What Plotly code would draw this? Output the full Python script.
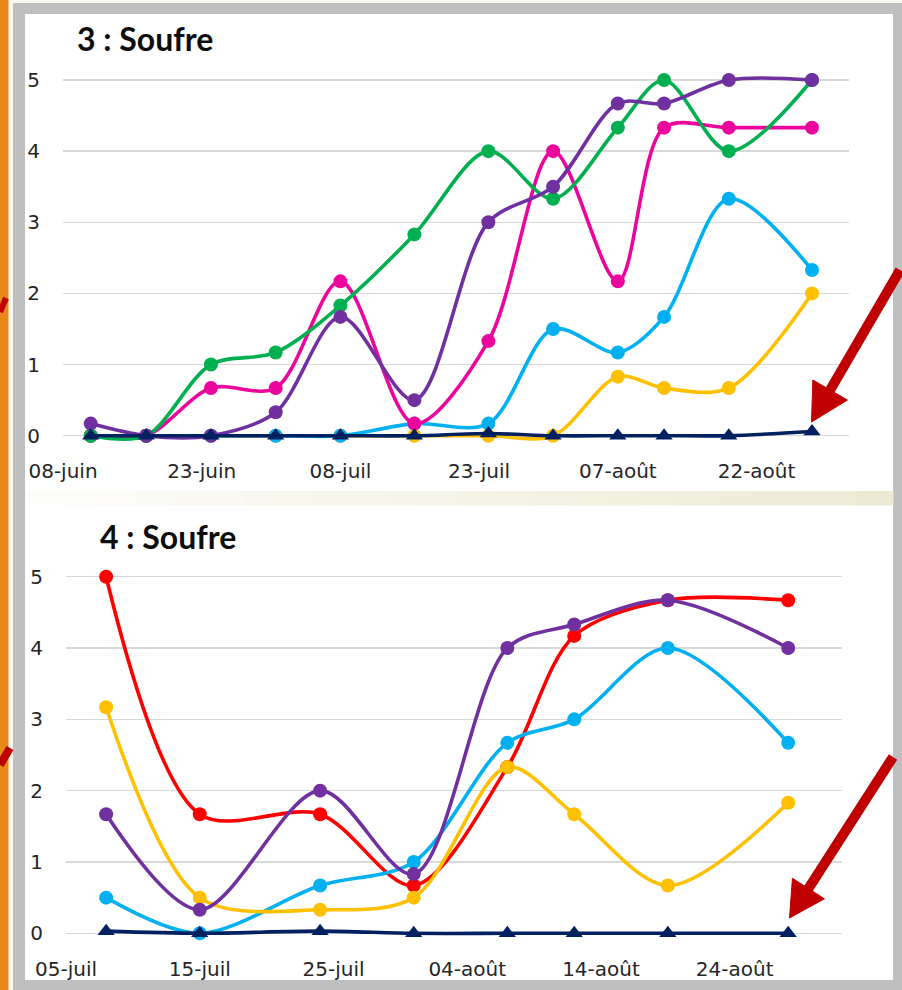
import plotly.graph_objects as go

W, H = 902, 990

# ---------------- Data : chart 3 ----------------
dates3 = ["2014-06-11", "2014-06-17", "2014-06-24", "2014-07-01", "2014-07-08", "2014-07-16",
          "2014-07-24", "2014-07-31", "2014-08-07", "2014-08-12", "2014-08-19", "2014-08-28"]
yellow3 = [0, 0, 0, 0, 0, 0, 0, 0, 0.83, 0.67, 0.67, 2.0]
cyan3 = [0, 0, 0, 0, 0, 0.17, 0.17, 1.5, 1.17, 1.67, 3.33, 2.33]
pink3 = [0, 0, 0.67, 0.67, 2.17, 0.17, 1.33, 4.0, 2.17, 4.33, 4.33, 4.33]
green3 = [0, 0, 1.0, 1.17, 1.83, 2.83, 4.0, 3.33, 4.33, 5.0, 4.0, 5.0]
purple3 = [0.17, 0, 0, 0.33, 1.67, 0.5, 3.0, 3.5, 4.67, 4.67, 5.0, 5.0]
navy3 = [0, 0, 0, 0, 0, 0, 0.03, 0, 0, 0, 0, 0.06]
ticks3 = ["2014-06-08", "2014-06-23", "2014-07-08", "2014-07-23", "2014-08-07", "2014-08-22"]
ticktext3 = ["08-juin", "23-juin", "08-juil", "23-juil", "07-août", "22-août"]
range3 = ["2014-06-08", "2014-09-01"]

# ---------------- Data : chart 4 ----------------
dates4 = ["2014-07-08", "2014-07-15", "2014-07-24", "2014-07-31",
          "2014-08-07", "2014-08-12", "2014-08-19", "2014-08-28"]
red4 = [5.0, 1.67, 1.67, 0.67, 2.33, 4.17, 4.67, 4.67]
cyan4 = [0.5, 0, 0.67, 1.0, 2.67, 3.0, 4.0, 2.67]
yellow4 = [3.17, 0.5, 0.33, 0.5, 2.33, 1.67, 0.67, 1.83]
purple4 = [1.67, 0.33, 2.0, 0.83, 4.0, 4.33, 4.67, 4.0]
navy4 = [0.03, 0, 0.03, 0, 0, 0, 0, 0]
ticks4 = ["2014-07-05", "2014-07-15", "2014-07-25", "2014-08-04", "2014-08-14", "2014-08-24"]
ticktext4 = ["05-juil", "15-juil", "25-juil", "04-août", "14-août", "24-août"]
range4 = ["2014-07-05", "2014-09-01"]

titles = ["3 : Soufre", "4 : Soufre"]

C_YELLOW = "#FFC000"
C_CYAN = "#00B0F0"
C_PINK = "#EC059C"
C_GREEN = "#00B050"
C_PURPLE = "#7030A0"
C_NAVY = "#002060"
C_RED = "#FF0000"

YPAD = 0.3  # extra value room so smooth lines at 0 / 5 are not clipped


def px(x):
    return x / W


def py(y):
    return 1 - y / H


def ydomain(pix0, pix5):
    per = (pix0 - pix5) / 5.0
    return [py(pix0 + YPAD * per), py(pix5 - YPAD * per)]


fig = go.Figure()


def add_series(x, y, color, xa, ya, tri=False):
    fig.add_trace(go.Scatter(
        x=x, y=y, mode="lines+markers", xaxis=xa, yaxis=ya,
        line=dict(color=color, width=3.6, shape="spline", smoothing=0.9),
        marker=dict(color=color, size=15 if tri else 14,
                    symbol="triangle-up" if tri else "circle"),
        cliponaxis=False, showlegend=False, hoverinfo="skip"))


for ys, col in [(yellow3, C_YELLOW), (cyan3, C_CYAN), (pink3, C_PINK),
                (green3, C_GREEN), (purple3, C_PURPLE)]:
    add_series(dates3, ys, col, "x", "y")
add_series(dates3, navy3, C_NAVY, "x", "y", tri=True)

for ys, col in [(red4, C_RED), (cyan4, C_CYAN), (yellow4, C_YELLOW), (purple4, C_PURPLE)]:
    add_series(dates4, ys, col, "x2", "y2")
add_series(dates4, navy4, C_NAVY, "x2", "y2", tri=True)

tick_font = dict(family="DejaVu Sans", size=20, color="#262626")

xcommon = dict(type="date", showgrid=False, zeroline=False, showline=False, ticks="",
               tickfont=tick_font, ticklabelstandoff=0, fixedrange=True, automargin=False)
ycommon = dict(range=[-YPAD, 5 + YPAD], tickvals=[0, 1, 2, 3, 4, 5], ticklabelstandoff=22,
               fixedrange=True, showgrid=True, gridcolor="#D9D9D9", gridwidth=1.5,
               zeroline=False, showline=False, ticks="", tickfont=tick_font, automargin=False)

fig.update_layout(
    template="none",
    width=W, height=H, autosize=False,
    margin=dict(l=0, r=0, t=0, b=0, pad=0),
    paper_bgcolor="#FAF9F2", plot_bgcolor="rgba(0,0,0,0)",
    xaxis=dict(domain=[px(63), px(849)], range=range3, tickvals=ticks3, ticktext=ticktext3,
               anchor="y", **xcommon),
    yaxis=dict(domain=ydomain(435.7, 80), anchor="x", **ycommon),
    xaxis2=dict(domain=[px(66), px(841.7)], range=range4, tickvals=ticks4, ticktext=ticktext4,
                anchor="y2", **xcommon),
    yaxis2=dict(domain=ydomain(933.3, 576.7), anchor="x2", **ycommon),
)

shapes = []
# background frame
shapes.append(dict(type="rect", xref="paper", yref="paper", x0=px(0), x1=px(8.5), y0=py(990), y1=py(0),
                   fillcolor="#E8891A", line=dict(width=0), layer="below"))
shapes.append(dict(type="rect", xref="paper", yref="paper", x0=px(13), x1=px(902), y0=py(990), y1=py(3),
                   fillcolor="#BFBFBF", line=dict(width=0), layer="below"))
shapes.append(dict(type="rect", xref="paper", yref="paper", x0=px(25), x1=px(893), y0=py(980), y1=py(14),
                   fillcolor="#FFFFFF", line=dict(width=0), layer="below"))
# gradient strip between panels
n = 24
c0 = (253, 253, 250)
c1 = (237, 234, 212)
x_start, x_end = 25, 893
for i in range(n):
    t = i / (n - 1)
    c = tuple(int(round(c0[k] + (c1[k] - c0[k]) * t)) for k in range(3))
    xa = x_start + (x_end - x_start) * i / n
    xb = x_start + (x_end - x_start) * (i + 1) / n
    shapes.append(dict(type="rect", xref="paper", yref="paper", x0=px(xa), x1=px(xb + 0.5),
                       y0=py(505.5), y1=py(491), fillcolor="rgb(%d,%d,%d)" % c,
                       line=dict(width=0), layer="below"))

# red arrows
ARROW = "#C00000"


def arrow(tip, tail, head_len, head_w, width):
    dx, dy = tail[0] - tip[0], tail[1] - tip[1]
    L = (dx * dx + dy * dy) ** 0.5
    ux, uy = dx / L, dy / L
    bx, by = tip[0] + ux * head_len, tip[1] + uy * head_len
    nx, ny = -uy, ux
    w1 = (bx + nx * head_w / 2, by + ny * head_w / 2)
    w2 = (bx - nx * head_w / 2, by - ny * head_w / 2)
    path = "M %f,%f L %f,%f L %f,%f Z" % (px(tip[0]), py(tip[1]), px(w1[0]), py(w1[1]),
                                          px(w2[0]), py(w2[1]))
    shapes.append(dict(type="line", xref="paper", yref="paper",
                       x0=px(bx - ux * 2), y0=py(by - uy * 2), x1=px(tail[0]), y1=py(tail[1]),
                       line=dict(color=ARROW, width=width), layer="above"))
    shapes.append(dict(type="path", xref="paper", yref="paper", path=path,
                       fillcolor=ARROW, line=dict(color=ARROW, width=1), layer="above"))


arrow((811.5, 422), (900, 270), 37, 40, 10)
arrow((789.5, 918), (893, 757), 35, 38, 10)

# small red bits from neighbouring slide at the left edge
shapes.append(dict(type="line", xref="paper", yref="paper", x0=px(0), y0=py(312), x1=px(6), y1=py(298),
                   line=dict(color=ARROW, width=6), layer="above"))
shapes.append(dict(type="line", xref="paper", yref="paper", x0=px(0), y0=py(765), x1=px(10), y1=py(748),
                   line=dict(color=ARROW, width=8), layer="above"))

fig.update_layout(shapes=shapes)

for title, (tx, ty) in zip(titles, [(75, 38), (98, 536)]):
    fig.add_annotation(xref="paper", yref="paper", x=px(tx), y=py(ty), xanchor="left", yanchor="middle",
                       text="<b>%s</b>" % title, showarrow=False,
                       font=dict(family="Lato", size=32, color="#0D0D0D"))

fig.write_html("out.html", config={"displayModeBar": False, "staticPlot": True},
               post_script="document.body.style.margin='0';document.body.style.padding='0';")
